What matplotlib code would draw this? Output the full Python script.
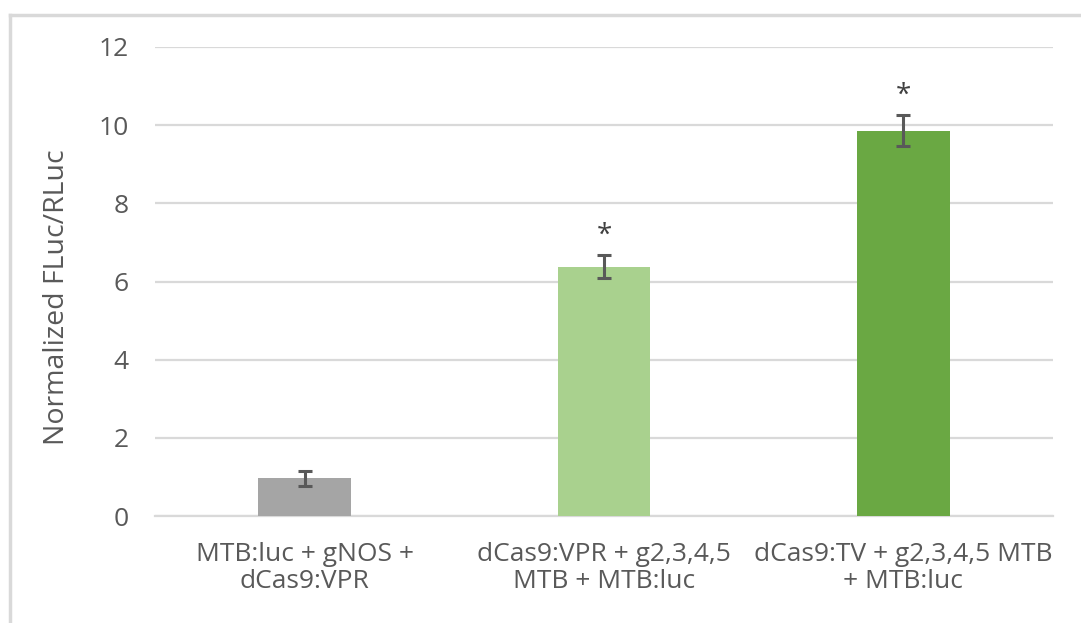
import matplotlib
matplotlib.use("Agg")
import matplotlib.pyplot as plt
from matplotlib.lines import Line2D

categories = ["MTB:luc + gNOS +\ndCas9:VPR",
              "dCas9:VPR + g2,3,4,5\nMTB + MTB:luc",
              "dCas9:TV + g2,3,4,5 MTB\n+ MTB:luc"]
values = [0.97, 6.38, 9.86]
errors = [0.19, 0.30, 0.40]
significant = [False, True, True]
colors = ["#a5a5a5", "#a9d18e", "#6aa843"]
yticks = [0, 2, 4, 6, 8, 10, 12]

plt.rcParams['font.family'] = ['Open Sans', 'DejaVu Sans']
text_color = "#595959"

fig = plt.figure(figsize=(10.81, 6.23), dpi=100)
ax = fig.add_axes([0.1434, 0.1717, 0.974 - 0.1434, 0.9246 - 0.1717])

x = list(range(len(categories)))
ax.bar(x, values, width=0.31, color=colors, zorder=2)
ax.errorbar(x, values, yerr=errors, fmt='none', ecolor=text_color,
            elinewidth=2.2, capsize=4.8, capthick=2.2, zorder=3)
for xi, v, e, s in zip(x, values, errors, significant):
    if s:
        ax.annotate("*", (xi, v + e), xytext=(0, 4), textcoords="offset points",
                    ha="center", va="bottom", fontsize=20, color="#404040")

ax.set_xlim(-0.5, 2.5)
ax.set_ylim(0, 12)
ax.set_yticks(yticks)
ax.set_yticklabels([str(t) for t in yticks])
ax.yaxis.grid(True, color="#d9d9d9", linewidth=1.6, zorder=0)
ax.set_axisbelow(True)
for sp in ["top", "right", "left"]:
    ax.spines[sp].set_visible(False)
ax.spines["bottom"].set_color("#d9d9d9")
ax.spines["bottom"].set_linewidth(1.6)
ax.spines["bottom"].set_zorder(1)

ax.set_xticks(x)
ax.set_xticklabels(categories, fontsize=19, color=text_color, linespacing=1.1)
ax.tick_params(axis="x", length=0, pad=19)
ax.tick_params(axis="y", length=0, pad=19, labelsize=19, labelcolor=text_color)

ax.set_ylabel("Normalized FLuc/RLuc", fontsize=20.5, color=text_color)
ax.yaxis.set_label_coords(-0.094, 0.467)

# figure border (top and left visible)
fig.add_artist(Line2D([0.0097, 1.0], [0.9767, 0.9767], transform=fig.transFigure,
                      color="#d9d9d9", linewidth=2.5))
fig.add_artist(Line2D([0.0097, 0.0097], [0.0, 0.9767], transform=fig.transFigure,
                      color="#d9d9d9", linewidth=2.5))

fig.savefig("out.png", dpi=100)
